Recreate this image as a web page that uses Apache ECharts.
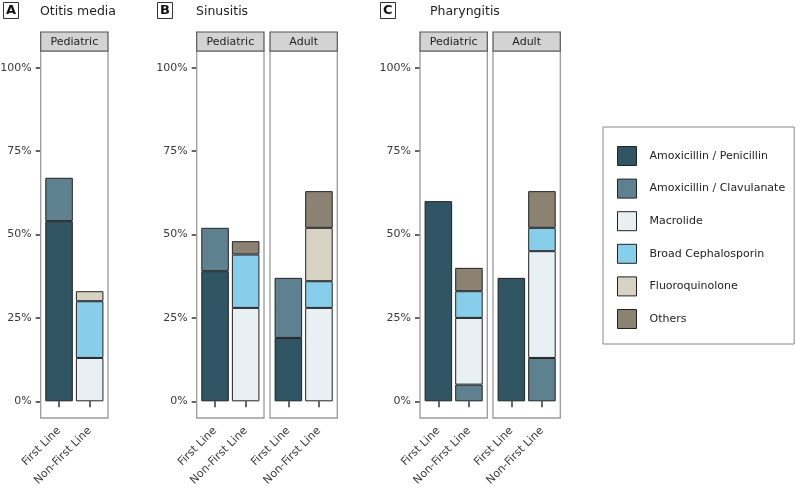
<!DOCTYPE html>
<html>
<head>
<meta charset="utf-8">
<script src="https://cdn.jsdelivr.net/npm/echarts@6/dist/echarts.min.js"></script>
<style>html,body{margin:0;padding:0;background:#fff}#c{width:800px;height:489px}</style>
</head>
<body>
<div id="c"></div>
<script>
// ---------- data ----------
const categories = ['First Line', 'Non-First Line'];
const drugClasses = ['Amoxicillin / Penicillin', 'Amoxicillin / Clavulanate', 'Macrolide', 'Broad Cephalosporin', 'Fluoroquinolone', 'Others'];
const yTicks = [0, 25, 50, 75, 100];
const panelLetters = ['A', 'B', 'C'];
const diseases = ['Otitis media', 'Sinusitis', 'Pharyngitis'];
const stripLabels = ['Pediatric', 'Pediatric', 'Adult', 'Pediatric', 'Adult'];
// percent of prescriptions, per drug class: [First Line, Non-First Line]
const otitisPediatric  = [[54, null], [13, null], [null, 13], [null, 17], [null, 3], [null, null]];
const sinusPediatric   = [[39, null], [13, null], [null, 28], [null, 16], [null, null], [null, 4]];
const sinusAdult       = [[19, null], [18, null], [null, 28], [null, 8], [null, 16], [null, 11]];
const pharynPediatric  = [[60, null], [null, 5], [null, 20], [null, 8], [null, null], [null, 7]];
const pharynAdult      = [[37, null], [null, 13], [null, 32], [null, 7], [null, null], [null, 11]];
const panelData = [otitisPediatric, sinusPediatric, sinusAdult, pharynPediatric, pharynAdult];

// ---------- styles / layout ----------
const palette = ['#2F5563', '#5E818F', '#E8F0F3', '#87CEEB', '#D8D2C2', '#8B8272'];
const FONT = 'DejaVu Sans';
const frames = [
  { left: 40.7, width: 67.3, showY: true },
  { left: 196.7, width: 67.3, showY: true },
  { left: 270, width: 67.3, showY: false },
  { left: 420, width: 67.3, showY: true },
  { left: 493, width: 67.3, showY: false }
];
const PANEL_TOP = 51, PANEL_H = 367, STRIP_TOP = 32, STRIP_H = 19;
const titlePos = [
  { box: 3, text: 40 },
  { box: 157, text: 196 },
  { box: 380, text: 430 }
];

const grids = [], xAxes = [], yAxes = [], series = [], graphics = [];
frames.forEach((f, p) => {
  const inset = f.width * 0.1 / 2.2;
  grids.push({ left: f.left + inset, width: f.width * 2 / 2.2, top: PANEL_TOP, height: PANEL_H, show: false, outerBoundsMode: 'none', containLabel: false });
  xAxes.push({
    gridIndex: p, type: 'category', data: categories, position: 'bottom',
    axisLine: { show: false },
    axisTick: { show: true, alignWithLabel: true, length: 6, lineStyle: { color: '#333', width: 1.5 } },
    axisLabel: { rotate: 45, interval: 0, fontSize: 11, color: '#3a3a3a', margin: 11, fontFamily: FONT },
    splitLine: { show: false }
  });
  yAxes.push({
    gridIndex: p, type: 'value', min: -5, max: 105, offset: inset,
    axisLine: { show: false },
    axisTick: { show: f.showY, length: 5, customValues: yTicks, lineStyle: { color: '#333', width: 1.5 } },
    axisLabel: { show: f.showY, customValues: yTicks, formatter: v => v + '%', fontSize: 11, color: '#3a3a3a', margin: 9, fontFamily: FONT },
    splitLine: { show: false }
  });
  drugClasses.forEach((name, d) => {
    series.push({
      type: 'bar', name: name, xAxisIndex: p, yAxisIndex: p, stack: 'panel' + p,
      barWidth: '90%', data: panelData[p][d],
      itemStyle: { color: palette[d], borderColor: '#222', borderWidth: 1 },
      emphasis: { disabled: true }
    });
  });
  // panel frame
  graphics.push({ type: 'rect', z: 100, shape: { x: f.left, y: PANEL_TOP, width: f.width, height: PANEL_H },
    style: { fill: 'none', stroke: '#9a9a9a', lineWidth: 1.3 } });
  // strip
  graphics.push({ type: 'rect', z: 100, shape: { x: f.left, y: STRIP_TOP, width: f.width, height: STRIP_H },
    style: { fill: '#d3d3d3', stroke: '#555', lineWidth: 1.2 } });
  graphics.push({ type: 'text', z: 101, x: f.left + f.width / 2, y: STRIP_TOP + STRIP_H / 2 + 0.5,
    style: { text: stripLabels[p], fill: '#222', font: '11px "' + FONT + '"', align: 'center', verticalAlign: 'middle' } });
});

const titles = [];
panelLetters.forEach((L, i) => {
  titles.push({ text: L, left: titlePos[i].box, top: 2, padding: [2, 3, 2, 3], borderColor: '#333', borderWidth: 1,
    textStyle: { fontSize: 13, fontWeight: 'bold', color: '#111', fontFamily: FONT } });
  titles.push({ text: diseases[i], left: titlePos[i].text, top: 5, padding: 0,
    textStyle: { fontSize: 12.5, fontWeight: 'normal', color: '#222', fontFamily: FONT } });
});

const chart = echarts.init(document.getElementById('c'), null, { renderer: 'canvas' });
chart.setOption({
  animation: false,
  textStyle: { fontFamily: FONT },
  title: titles,
  grid: grids,
  xAxis: xAxes,
  yAxis: yAxes,
  series: series,
  graphic: graphics,
  legend: {
    data: drugClasses, orient: 'vertical', left: 603, top: 127,
    padding: [19, 9, 15, 14], itemGap: 12.6, itemWidth: 19, itemHeight: 19, icon: 'rect',
    borderColor: '#888', borderWidth: 1, selectedMode: false,
    itemStyle: { borderColor: '#222', borderWidth: 1 },
    textStyle: { fontSize: 11, color: '#222', fontFamily: FONT, padding: [0, 0, 0, 8] }
  }
});
</script>
</body>
</html>
